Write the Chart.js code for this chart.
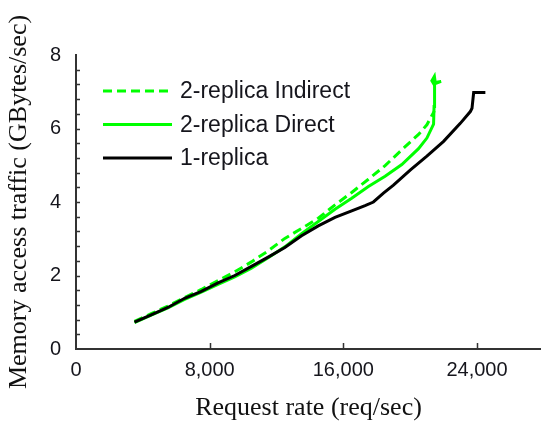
<!DOCTYPE html>
<html lang="en">
<head>
	<meta charset="utf-8">
	<script src="https://cdn.jsdelivr.net/npm/chart.js@4.4.1/dist/chart.umd.min.js"></script>
	<title>Memory access traffic vs request rate</title>
<style>
body { margin: 0; background: #fff; }
.wrap { width: 541px; height: 422px; }
</style>
</head>
<body>
	<div class="wrap">
		<canvas id="trafficChart"></canvas>
	</div>
<script>
// request rate (req/sec) and memory traffic (GBytes/sec) per configuration
const indirectRate = [3500, 4500, 5500, 6500, 7500, 8500, 9500, 10500, 11500, 12500, 13500, 14500, 15500, 16500, 17500, 18500, 19500, 20500, 21000, 21450];
const indirectTraffic = [0.75, 0.96, 1.17, 1.40, 1.62, 1.86, 2.10, 2.37, 2.67, 3.01, 3.28, 3.56, 3.92, 4.26, 4.62, 4.99, 5.42, 5.84, 6.10, 6.48];

const directRate = [3500, 4500, 5500, 6500, 7500, 8500, 9500, 10500, 11500, 12500, 13500, 14500, 15500, 16500, 17500, 18500, 19500, 20500, 21000, 21400, 21430, 21450, 21470, 21300, 21450, 21500, 21850, 21500];
const directTraffic = [0.72, 0.92, 1.12, 1.35, 1.55, 1.76, 1.96, 2.20, 2.48, 2.78, 3.14, 3.47, 3.80, 4.10, 4.42, 4.70, 5.02, 5.45, 5.74, 6.12, 6.60, 7.00, 7.18, 7.30, 7.42, 7.25, 7.28, 7.22];

const singleRate = [3500, 4500, 5500, 6500, 7500, 8500, 9500, 10500, 11500, 12500, 13500, 14500, 15500, 16500, 17300, 17800, 18400, 19000, 20000, 21000, 22000, 23000, 23600, 23700, 23800, 24500];
const singleTraffic = [0.73, 0.93, 1.13, 1.38, 1.57, 1.80, 2.00, 2.25, 2.50, 2.76, 3.08, 3.35, 3.58, 3.76, 3.90, 4.00, 4.24, 4.46, 4.87, 5.25, 5.65, 6.14, 6.46, 6.55, 6.98, 6.98];

const seriesLabels = ['2-replica Indirect', '2-replica Direct', '1-replica'];
const xTickValues = [0, 8000, 16000, 24000];
const yTickValues = [0, 2, 4, 6, 8];

const toPoints = (xs, ys) => xs.map((x, i) => ({x: x, y: ys[i]}));

const GREEN = '#00ff00';
const INK = '#15151c';

// inward tick marks (minor every 0.4 on y)
const insideTicks = {
	id: 'insideTicks',
	afterDraw(chart) {
		const ctx = chart.ctx;
		const xs = chart.scales.x, ys = chart.scales.y;
		const left = chart.chartArea.left, bottom = chart.chartArea.bottom;
		ctx.save();
		ctx.strokeStyle = '#333';
		ctx.lineWidth = 1.5;
		ctx.beginPath();
		for (let k = 1; k < 20; k++) {
			const py = Math.round(ys.getPixelForValue(k * 0.4)) + 0.5;
			ctx.moveTo(left, py);
			ctx.lineTo(left + 4, py);
		}
		xTickValues.slice(1).forEach(v => {
			const px = Math.round(xs.getPixelForValue(v)) + 0.5;
			ctx.moveTo(px, bottom);
			ctx.lineTo(px, bottom - 6);
		});
		ctx.stroke();
		ctx.restore();
	}
};

// legend drawn inside the plot, top left
const innerLegend = {
	id: 'innerLegend',
	afterDatasetsDraw(chart) {
		const ctx = chart.ctx;
		const x0 = chart.chartArea.left + 27;
		const y0 = chart.chartArea.top + 36;
		ctx.save();
		ctx.font = '23px "Liberation Sans", Arial, sans-serif';
		ctx.textBaseline = 'middle';
		chart.data.datasets.forEach((ds, i) => {
			const y = y0 + i * 33.5;
			ctx.strokeStyle = ds.borderColor;
			ctx.lineWidth = 3;
			ctx.setLineDash(ds.borderDash || []);
			ctx.beginPath();
			ctx.moveTo(x0, y);
			ctx.lineTo(x0 + 69, y);
			ctx.stroke();
			ctx.setLineDash([]);
			ctx.fillStyle = INK;
			ctx.fillText(ds.label, x0 + 77, y + 1);
		});
		ctx.restore();
	}
};

const ctx = document.getElementById('trafficChart');
new Chart(ctx, {
	type: 'scatter',
	data: {
		datasets: [{
			label: seriesLabels[0],
			data: toPoints(indirectRate, indirectTraffic),
			borderColor: GREEN,
			borderDash: [9, 5],
			order: 2
		}, {
			label: seriesLabels[1],
			data: toPoints(directRate, directTraffic),
			borderColor: GREEN,
			order: 1
		}, {
			label: seriesLabels[2],
			data: toPoints(singleRate, singleTraffic),
			borderColor: '#000',
			order: 0
		}]
	},
	options: {
		responsive: true,
		maintainAspectRatio: false,
		animation: false,
		showLine: true,
		elements: {
			point: { radius: 0, hoverRadius: 0 },
			line: { borderWidth: 3, tension: 0, fill: false }
		},
		layout: { padding: { top: 55, right: 0, left: 0, bottom: 0 } },
		plugins: {
			legend: { display: false },
			tooltip: { enabled: false }
		},
		scales: {
			x: {
				type: 'linear',
				min: 0,
				max: 27830,
				grid: { display: false },
				border: { display: true, color: '#333', width: 2 },
				afterBuildTicks: s => { s.ticks = xTickValues.map(v => ({value: v})); },
				afterFit: s => { s.height = 73; },
				ticks: {
					padding: 1,
					color: INK,
					font: { family: '"Liberation Sans", Arial, sans-serif', size: 20 },
					callback: v => v.toLocaleString('en-US')
				},
				title: {
					display: true,
					text: 'Request rate (req/sec)',
					color: '#111',
					padding: { top: 0, bottom: 1 },
					font: { family: '"Liberation Serif", "Times New Roman", serif', size: 26, lineHeight: 1 }
				}
			},
			y: {
				type: 'linear',
				min: 0,
				max: 8,
				grid: { display: false },
				border: { display: true, color: '#333', width: 2 },
				afterBuildTicks: s => { s.ticks = yTickValues.map(v => ({value: v})); },
				afterFit: s => { s.width = 76; },
				ticks: {
					padding: 7,
					color: INK,
					font: { family: '"Liberation Sans", Arial, sans-serif', size: 20 }
				},
				title: {
					display: true,
					text: 'Memory access traffic (GBytes/sec)',
					color: '#111',
					padding: { top: 6, bottom: 0 },
					font: { family: '"Liberation Serif", "Times New Roman", serif', size: 26, lineHeight: 1 }
				}
			}
		}
	},
	plugins: [insideTicks, innerLegend]
});
</script>
</body>
</html>
